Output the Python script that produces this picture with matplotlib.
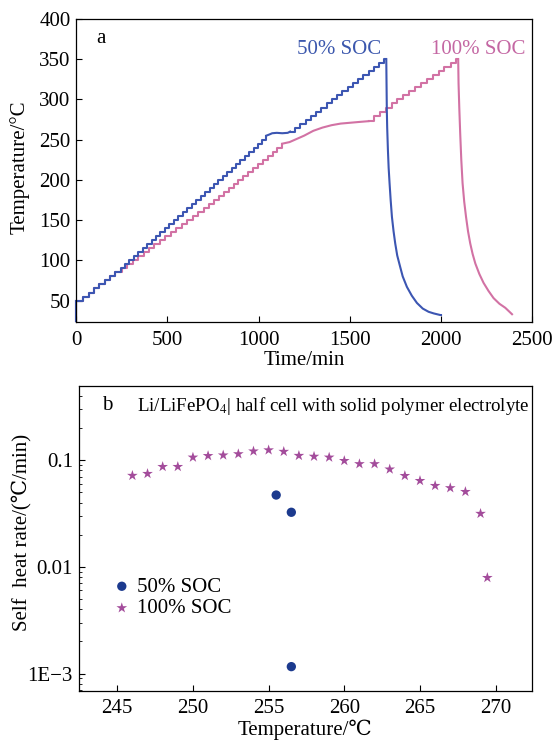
import matplotlib.pyplot as plt
from matplotlib.ticker import FixedLocator, FixedFormatter, LogLocator, NullFormatter

plt.rcParams.update({
    'font.family'      : ['Liberation Serif', 'DejaVu Serif', 'DejaVu Sans'],
    'mathtext.fontset' : 'stix',
    'font.size'        : 14,
    'axes.linewidth'   : 0.9,
    'xtick.direction'  : 'in',
    'ytick.direction'  : 'in',
    'xtick.major.size' : 4,
    'ytick.major.size' : 4,
    'ytick.minor.size' : 2.2,
    'xtick.major.pad'  : 6,
    'ytick.major.pad'  : 4,
})

blue = '#3c56b2'
pink = '#d272a4'

# ---- (a) temperature vs time, HWS staircase ----
# 50% SOC
t50_step1 = [0, 40, 69, 99, 128, 157, 187, 216, 245, 269, 293, 317, 341, 365, 390, 414,
             438, 462, 486, 511, 535, 560, 585, 609, 634, 658, 683, 708, 732, 756, 780,
             804, 828, 852, 877, 901, 925, 949, 973, 997, 1020, 1043]
T50_step1 = [50, 55, 60, 65, 70, 75, 80, 85, 90, 95, 100, 105, 110, 115, 120, 125,
             130, 135, 140, 145, 150, 155, 160, 165, 170, 175, 180, 185, 190, 195, 200,
             205, 210, 215, 220, 225, 230, 235, 240, 245, 250, 255]
t50_exo = [1043, 1060, 1075, 1100, 1130, 1160, 1173]
T50_exo = [255, 256.5, 258, 258.5, 258, 258.5, 260]
t50_step2 = [1173, 1202, 1230, 1259, 1288, 1317, 1345, 1374, 1403, 1431, 1460, 1489,
             1517, 1546, 1575, 1603, 1632, 1661, 1690, 1700]
T50_step2 = [260, 265, 270, 275, 280, 285, 290, 295, 300, 305, 310, 315,
             320, 325, 330, 335, 340, 345, 350, 350]
t50_cool = [1700, 1703, 1705, 1709, 1713, 1718, 1724, 1731, 1740, 1749, 1760, 1776,
            1790, 1813, 1840, 1868, 1900, 1932, 1960, 1996, 2000]
T50_cool = [350, 287, 265, 237, 215, 196, 175, 154, 136, 121, 106, 92,
            80, 67, 56, 47, 40, 36, 34, 32, 32]

# 100% SOC
t100_step1 = [0, 40, 69, 99, 128, 157, 187, 216, 250, 280, 310, 340, 370, 400, 430, 460,
              490, 520, 550, 580, 610, 640, 670, 700, 730, 757, 784, 810, 837, 863, 890,
              917, 943, 970, 997, 1023, 1050, 1077, 1103, 1130]
T100_step1 = [50, 55, 60, 65, 70, 75, 80, 85, 90, 95, 100, 105, 110, 115, 120, 125,
              130, 135, 140, 145, 150, 155, 160, 165, 170, 175, 180, 185, 190, 195, 200,
              205, 210, 215, 220, 225, 230, 235, 240, 245]
t100_exo = [1130, 1150, 1170, 1200, 1250, 1300, 1350, 1400, 1450, 1500, 1550, 1603]
T100_exo = [245, 246, 247, 250, 255, 261, 265, 268, 270, 271, 272, 273]
t100_step2 = [1603, 1632, 1665, 1697, 1729, 1761, 1794, 1826, 1858, 1890, 1923, 1955,
              1987, 2019, 2052, 2084, 2094]
T100_step2 = [273, 280, 285, 290, 295, 300, 305, 310, 315, 320, 325, 330,
              335, 340, 345, 350, 350]
t100_cool = [2094, 2096, 2100, 2105, 2111, 2118, 2127, 2137, 2148, 2160, 2173, 2188,
             2210, 2233, 2260, 2288, 2320, 2352, 2389]
T100_cool = [350, 320, 290, 258, 225, 196, 173, 154, 136, 121, 108, 96,
             83, 72, 62, 53, 46, 41, 33]

# ---- (b) self heat rate ----
temp_50 = [255.5, 256.5, 256.5]
rate_50 = [0.047, 0.0324, 0.00116]
temp_100 = [246, 247, 248, 249, 250, 251, 252, 253, 254, 255, 256, 257, 258, 259,
            260, 261, 262, 263, 264, 265, 266, 267, 268, 269, 269.45]
rate_100 = [0.0715, 0.0745, 0.0866, 0.0866, 0.106, 0.1096, 0.111, 0.114, 0.121, 0.124,
            0.120, 0.110, 0.108, 0.106, 0.0985, 0.092, 0.092, 0.082, 0.0713, 0.064,
            0.0575, 0.0548, 0.0505, 0.0315, 0.0079]

fig = plt.figure(figsize=(5.54, 7.40), dpi=100)
ax1 = fig.add_axes([0.1372, 0.5645, 0.8236, 0.4098])
ax2 = fig.add_axes([0.1417, 0.0666, 0.8186, 0.4118])

lw = 1.5
ax1.plot([0, 0], [24, 50], color=pink, lw=lw, clip_on=False)
ax1.plot(t100_step1, T100_step1, color=pink, lw=lw, drawstyle='steps-post')
ax1.plot(t100_exo, T100_exo, color=pink, lw=lw)
ax1.plot(t100_step2, T100_step2, color=pink, lw=lw, drawstyle='steps-post')
ax1.plot(t100_cool, T100_cool, color=pink, lw=lw)

ax1.plot([0, 0], [24, 50], color=blue, lw=lw, clip_on=False)
ax1.plot(t50_step1, T50_step1, color=blue, lw=lw, drawstyle='steps-post')
ax1.plot(t50_exo, T50_exo, color=blue, lw=lw)
ax1.plot(t50_step2, T50_step2, color=blue, lw=lw, drawstyle='steps-post')
ax1.plot(t50_cool, T50_cool, color=blue, lw=lw)

ax1.set_xlim(0, 2500)
ax1.set_ylim(23, 400)
ax1.set_xticks([0, 500, 1000, 1500, 2000, 2500])
ax1.set_yticks([50, 100, 150, 200, 250, 300, 350, 400])
ax1.tick_params(labelsize=15)
ax1.set_xlabel('Time/min', fontsize=15, labelpad=1)
ax1.set_ylabel('Temperature/°C', fontsize=15)
ax1.yaxis.set_label_coords(-0.102, 0.51)
ax1.text(110, 376, 'a', fontsize=15, va='center', ha='left')
ax1.text(1440, 362, '50% SOC', color='#3b57ad', fontsize=15, ha='center', va='center')
ax1.text(2206, 362, '100% SOC', color='#c467a3', fontsize=15, ha='center', va='center')

ax2.set_yscale('log')
ax2.scatter(temp_50, rate_50, marker='o', s=45, color='#1c3a8e', edgecolors='none',
            label='50% SOC', zorder=3)
ax2.scatter(temp_100, rate_100, marker='*', s=65, color='#a34c9b', edgecolors='none',
            label='100% SOC', zorder=3)
ax2.set_xlim(242.44, 272.4)
ax2.set_ylim(6.9e-4, 0.494)
ax2.set_xticks([245, 250, 255, 260, 265, 270])
ax2.yaxis.set_major_locator(FixedLocator([0.001, 0.01, 0.1]))
ax2.yaxis.set_major_formatter(FixedFormatter(['1E\u22123', '0.01', '0.1']))
ax2.yaxis.set_minor_locator(LogLocator(base=10, subs=range(2, 10)))
ax2.yaxis.set_minor_formatter(NullFormatter())
ax2.tick_params(labelsize=15)
ax2.set_xlabel('Temperature/\u2103', fontsize=15, labelpad=1)
ax2.set_ylabel('Self  heat rate/(\u2103/min)', fontsize=15)
ax2.yaxis.set_label_coords(-0.104, 0.52)
ax2.text(243.98, 0.321, 'b', fontsize=15, va='center', ha='left')
ax2.text(246.3, 0.321, 'Li/LiFePO$_4$| half cell with solid polymer electrolyte',
         fontsize=13.6, va='center', ha='left')
ax2.legend(loc='center left', bbox_to_anchor=(0.061, 0.305), frameon=False, fontsize=15,
           handletextpad=0.37, labelspacing=0.1, borderaxespad=0, handlelength=0.7,
           scatterpoints=1)

fig.savefig('out.png', dpi=100)
